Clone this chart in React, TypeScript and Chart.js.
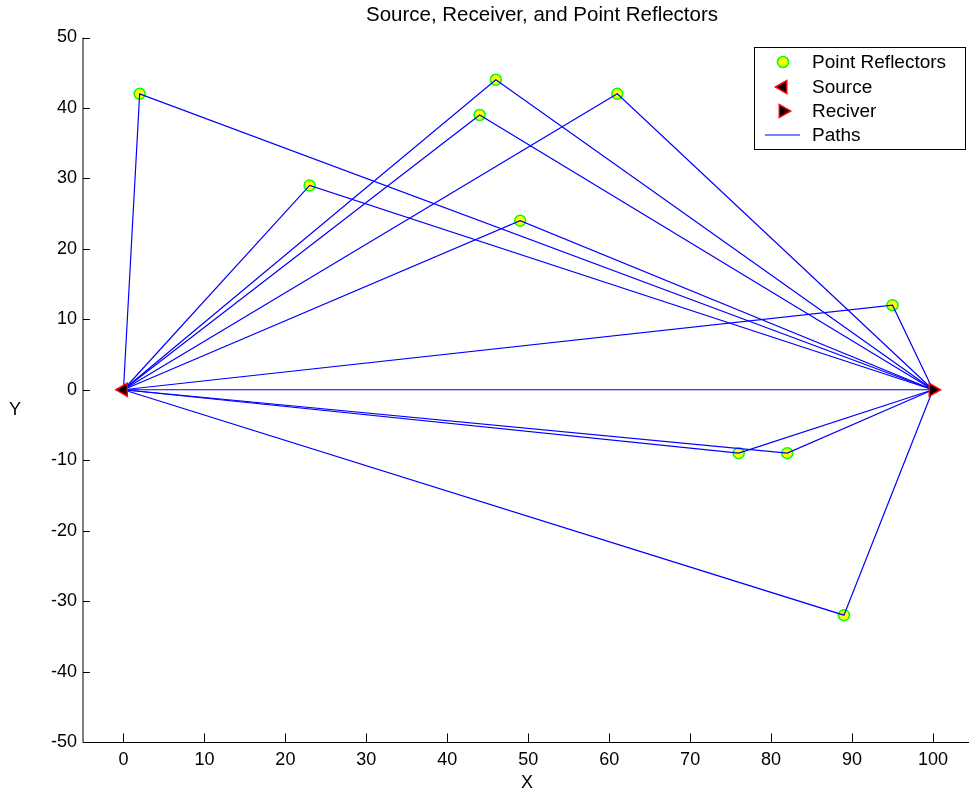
import React, { useEffect, useRef } from "react";
import { Chart, registerables } from "chart.js";

Chart.register(...registerables);

// Reflector positions (X, Y)
const reflectorX = [2, 23, 44, 46, 61, 49, 95, 76, 82, 89];
const reflectorY = [42, 29, 39, 44, 42, 24, 12, -9, -9, -32];

// Source and receiver positions
const sourceX = 0;
const sourceY = 0;
const receiverX = 100;
const receiverY = 0;

// Axis ticks
const xTickValues = [0, 10, 20, 30, 40, 50, 60, 70, 80, 90, 100];
const yTickValues = [-50, -40, -30, -20, -10, 0, 10, 20, 30, 40, 50];

const titleText = "Source, Receiver, and Point Reflectors";
const xLabel = "X";
const yLabel = "Y";
const legendLabels = ["Point Reflectors", "Source", "Reciver", "Paths"];

const FONT = "'Liberation Sans', Arial, sans-serif";
const PATH_COLOR = "#0000ff";

const decorPlugin = {
  id: "decor",
  afterDraw(chart: any) {
    const { ctx, chartArea, scales } = chart;
    const xs = scales.x;
    const ys = scales.y;
    ctx.save();

    // axis lines (left and bottom only)
    ctx.strokeStyle = "#000";
    ctx.lineWidth = 1;
    const bottom = Math.round(chartArea.bottom) + 0.5;
    ctx.beginPath();
    ctx.moveTo(83, chartArea.top);
    ctx.lineTo(83, bottom);
    ctx.moveTo(83, bottom);
    ctx.lineTo(chartArea.right, bottom);
    ctx.stroke();

    // inward ticks
    ctx.beginPath();
    xTickValues.forEach((v) => {
      const px = Math.round(xs.getPixelForValue(v)) + 0.5;
      ctx.moveTo(px, bottom);
      ctx.lineTo(px, bottom - 9);
    });
    yTickValues.forEach((v) => {
      const py = Math.round(ys.getPixelForValue(v)) + 0.5;
      ctx.moveTo(83, py);
      ctx.lineTo(90, py);
    });
    ctx.stroke();

    // title and axis labels
    ctx.fillStyle = "#000";
    ctx.textAlign = "center";
    ctx.textBaseline = "middle";
    ctx.font = `20.5px ${FONT}`;
    ctx.fillText(titleText, 542, 15);
    ctx.font = `18px ${FONT}`;
    ctx.fillText(xLabel, 527, 783);
    ctx.fillText(yLabel, 15, 410);

    // legend
    const lx = 754.5;
    const ly = 47.5;
    const lw = 211;
    const lh = 102;
    ctx.fillStyle = "#fff";
    ctx.fillRect(lx, ly, lw, lh);
    ctx.strokeStyle = "#000";
    ctx.lineWidth = 1;
    ctx.strokeRect(lx, ly, lw, lh);

    const rowY = [62, 87, 111, 135];
    const symX = 783;
    const textX = 812;

    // reflector symbol
    ctx.beginPath();
    ctx.arc(symX, rowY[0], 5.5, 0, Math.PI * 2);
    ctx.fillStyle = "#ffff00";
    ctx.fill();
    ctx.strokeStyle = "#00ff00";
    ctx.lineWidth = 1.5;
    ctx.stroke();

    const tri = (cx: number, cy: number, dir: number) => {
      const r = 7.5;
      ctx.beginPath();
      for (let i = 0; i < 3; i++) {
        const a = (dir === -1 ? Math.PI : 0) + (i * 2 * Math.PI) / 3;
        const px = cx + Math.cos(a) * r;
        const py = cy + Math.sin(a) * r;
        if (i === 0) ctx.moveTo(px, py);
        else ctx.lineTo(px, py);
      }
      ctx.closePath();
      ctx.fillStyle = "#000";
      ctx.fill();
      ctx.strokeStyle = "#ff0000";
      ctx.lineWidth = 1.5;
      ctx.stroke();
    };
    tri(symX, rowY[1], -1);
    tri(symX, rowY[2], 1);

    ctx.beginPath();
    ctx.moveTo(765, rowY[3]);
    ctx.lineTo(800, rowY[3]);
    ctx.strokeStyle = PATH_COLOR;
    ctx.lineWidth = 1;
    ctx.stroke();

    ctx.fillStyle = "#000";
    ctx.textAlign = "left";
    ctx.textBaseline = "middle";
    ctx.font = `19px ${FONT}`;
    legendLabels.forEach((t, i) => ctx.fillText(t, textX, rowY[i] + 1));

    ctx.restore();
  },
};

export default function App() {
  const canvasRef = useRef<HTMLCanvasElement | null>(null);

  useEffect(() => {
    const canvas = canvasRef.current;
    if (!canvas) return;

    const pathStyle = {
      showLine: true,
      borderColor: PATH_COLOR,
      borderWidth: 1.2,
      pointRadius: 0,
      fill: false,
      tension: 0,
    };

    // source -> reflector -> receiver
    const pathDatasets = reflectorX.map((rx, i) => ({
      label: "Paths",
      data: [
        { x: sourceX, y: sourceY },
        { x: rx, y: reflectorY[i] },
        { x: receiverX, y: receiverY },
      ],
      ...pathStyle,
    }));

    // direct source -> receiver
    const directPath = {
      label: "Paths",
      data: [
        { x: sourceX, y: sourceY },
        { x: receiverX, y: receiverY },
      ],
      ...pathStyle,
    };

    const chart = new Chart(canvas, {
      type: "scatter",
      data: {
        datasets: [
          {
            label: "Source",
            data: [{ x: sourceX, y: sourceY }],
            pointStyle: "triangle",
            rotation: -90,
            pointRadius: 7.5,
            backgroundColor: "#000",
            borderColor: "#ff0000",
            borderWidth: 1.5,
          },
          {
            label: "Reciver",
            data: [{ x: receiverX, y: receiverY }],
            pointStyle: "triangle",
            rotation: 90,
            pointRadius: 7.5,
            backgroundColor: "#000",
            borderColor: "#ff0000",
            borderWidth: 1.5,
          },
          ...pathDatasets,
          directPath,
          {
            label: "Point Reflectors",
            data: reflectorX.map((x, i) => ({ x, y: reflectorY[i] })),
            pointStyle: "circle",
            pointRadius: 5.5,
            backgroundColor: "#ffff00",
            borderColor: "#00ff00",
            borderWidth: 1.5,
          },
        ] as any,
      },
      options: {
        animation: false,
        responsive: false,
        events: [],
        layout: { autoPadding: false, padding: { top: 37.5, left: 0, right: 0, bottom: 0 } },
        plugins: {
          legend: { display: false },
          title: { display: false },
          tooltip: { enabled: false },
        },
        scales: {
          x: {
            type: "linear",
            min: -5,
            max: 104.45,
            grid: { display: false, drawTicks: false },
            border: { display: false },
            ticks: {
              color: "#000",
              font: { family: FONT, size: 18 },
              padding: 7,
              maxRotation: 0,
              autoSkip: false,
              callback: (v: any) => String(v),
            },
            afterBuildTicks: (axis: any) => {
              axis.ticks = xTickValues.map((value) => ({ value }));
            },
            afterFit: (axis: any) => {
              axis.height = 53;
              axis.paddingLeft = 0;
              axis.paddingRight = 0;
            },
          },
          y: {
            type: "linear",
            min: -50,
            max: 50,
            grid: { display: false, drawTicks: false },
            border: { display: false },
            ticks: {
              color: "#000",
              font: { family: FONT, size: 18 },
              padding: 6,
              autoSkip: false,
              callback: (v: any) => String(v),
            },
            afterBuildTicks: (axis: any) => {
              axis.ticks = yTickValues.map((value) => ({ value }));
            },
            afterFit: (axis: any) => {
              axis.width = 83;
              axis.paddingTop = 0;
              axis.paddingBottom = 0;
            },
          },
        },
      },
      plugins: [decorPlugin],
    });

    return () => chart.destroy();
  }, []);

  return (
    <div style={{ position: "absolute", left: 0, top: 0, width: 969, height: 795, background: "#fff" }}>
      <canvas ref={canvasRef} width={969} height={795} style={{ width: 969, height: 795, display: "block" }} />
    </div>
  );
}
